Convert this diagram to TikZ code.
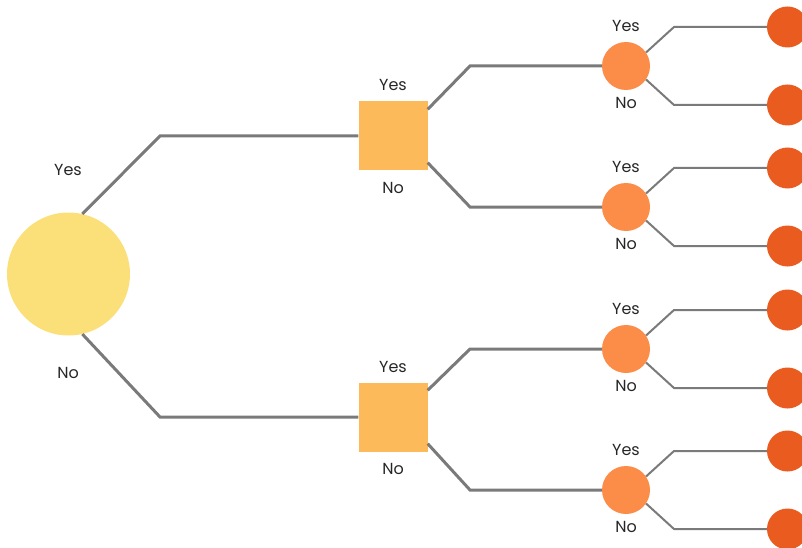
\documentclass[tikz,border=0pt]{standalone}
\usepackage{fontspec}
\setmainfont{Poppins}
\usetikzlibrary{calc}
\definecolor{rootc}{HTML}{FBE07A}
\definecolor{sqc}{HTML}{FDBA5A}
\definecolor{midc}{HTML}{FB8D48}
\definecolor{leafc}{HTML}{E95B1E}
\definecolor{linec}{HTML}{7A7A7A}
\begin{document}
\begin{tikzpicture}[x=1pt,y=-1pt,
  rootnode/.style={circle,fill=rootc,minimum size=123pt,inner sep=0pt},
  sqnode/.style={rectangle,fill=sqc,minimum size=69pt,inner sep=0pt},
  midnode/.style={circle,fill=midc,minimum size=48pt,inner sep=0pt},
  leafnode/.style={circle,fill=leafc,minimum size=41pt,inner sep=0pt},
  lab/.style={font=\fontsize{16}{18}\selectfont,text=black!85,inner sep=0pt},
  thick line/.style={draw=linec,line width=3pt},
  thin line/.style={draw=linec,line width=2pt}]
\useasboundingbox (0,0) rectangle (802,548);
\clip (0,0) rectangle (802,548);
% nodes
\node[rootnode] (root) at (68.5,274) {};
\node[sqnode] (sq1) at (393,136) {};
\node[sqnode] (sq2) at (393,417) {};
\node[midnode] (c1) at (626,66) {};
\node[midnode] (c2) at (626,207) {};
\node[midnode] (c3) at (626,349) {};
\node[midnode] (c4) at (626,490) {};
\foreach \i/\y in {1/27,2/105,3/168,4/246,5/310,6/388,7/451,8/529}{
  \node[leafnode] (l\i) at (787.5,\y) {};
}
% labels
\node[lab] (ry) at (68,170) {Yes};
\node[lab] (rn) at (68,373) {No};
\node[lab] (s1y) at (393,85) {Yes};
\node[lab] (s1n) at (393,188) {No};
\node[lab] (s2y) at (393,367) {Yes};
\node[lab] (s2n) at (393,469) {No};
\foreach \c in {1,2,3,4}{
  \node[lab] (c\c y) at ([yshift=16pt]c\c.north) {Yes};
  \node[lab] (c\c n) at ([yshift=-13pt]c\c.south) {No};
}
% connectors
\coordinate (k1) at (160,136);
\coordinate (k2) at (160,417);
\draw[thick line] (root.77) -- (k1) -- (sq1.west);
\draw[thick line] (root.-77) -- (k2) -- (sq2.west);
\draw[thick line] ([yshift=-8pt]sq1.north east) -- (470,66) -- (c1.west);
\draw[thick line] ([yshift=8pt]sq1.south east) -- (470,207) -- (c2.west);
\draw[thick line] ([yshift=-8pt]sq2.north east) -- (470,349) -- (c3.west);
\draw[thick line] ([yshift=8pt]sq2.south east) -- (470,490) -- (c4.west);
\foreach \c/\a/\b in {1/1/2,2/3/4,3/5/6,4/7/8}{
  \draw[thin line] (c\c.34) -- ($(c\c.center)+(48,-39)$) -- (l\a.west);
  \draw[thin line] (c\c.-34) -- ($(c\c.center)+(48,39)$) -- (l\b.west);
}
\end{tikzpicture}
\end{document}
